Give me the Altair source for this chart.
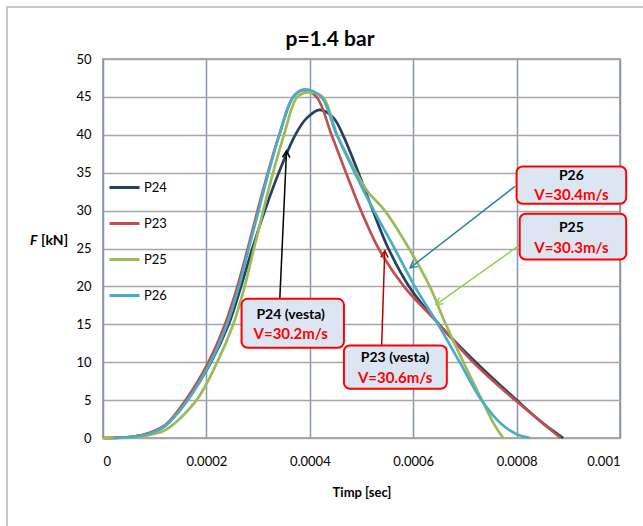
import math
import altair as alt
import pandas as pd

# ---------------- data ----------------
series_names = ["P24", "P23", "P25", "P26"]
series_colors = ["#243F60", "#C0504D", "#9BBB59", "#4BACC6"]

p24_t = [0, 0.00003, 0.00006, 0.00009, 0.00012, 0.000163, 0.000209, 0.000243, 0.000267, 0.000289,
         0.000313, 0.00034, 0.000372, 0.000394, 0.000419, 0.000445, 0.000464, 0.000494, 0.000522,
         0.000552, 0.000592, 0.00065, 0.000721, 0.0008, 0.00085, 0.00089]
p24_f = [0, 0.03, 0.2, 0.6, 1.6, 5, 10, 15, 20, 25,
         30, 35, 40, 42.2, 43.3, 42.3, 40, 35, 30,
         25, 20, 15, 10, 5, 2, 0]

p23_t = [0, 0.00003, 0.00006, 0.00009, 0.000122, 0.00016, 0.000204, 0.000236, 0.00026, 0.00028,
         0.000299, 0.000319, 0.000341, 0.000368, 0.000387, 0.000413, 0.000442, 0.00047, 0.000499,
         0.000533, 0.000582, 0.00065, 0.000716, 0.000797, 0.00085, 0.000885]
p23_f = [0, 0.05, 0.2, 0.7, 1.8, 5, 10, 15, 20, 25,
         30, 35, 40, 45, 45.9, 45, 40, 35, 30,
         25, 20, 15, 10, 5, 2, 0]

p25_t = [0, 0.00003, 0.00006, 0.00009, 0.000122, 0.000181, 0.000221, 0.000252, 0.000274, 0.000292,
         0.00031, 0.000329, 0.00035, 0.000376, 0.000397, 0.000425, 0.000453, 0.00049, 0.000512,
         0.000545, 0.000592, 0.000632, 0.000663, 0.000697, 0.000733, 0.000755, 0.000774]
p25_f = [0, 0, 0.1, 0.4, 1.1, 5, 10, 15, 20, 25,
         30, 35, 40, 45, 45.6, 45, 40, 35, 32.5,
         30, 25, 20, 15, 10, 5, 2, 0]

p26_t = [0.00002, 0.00006, 0.00009, 0.00012, 0.000164, 0.000208, 0.00024, 0.000263, 0.000282,
         0.000301, 0.00032, 0.000341, 0.000368, 0.00039, 0.000422, 0.000452, 0.000487, 0.000505,
         0.000524, 0.000564, 0.000603, 0.000648, 0.00069, 0.000732, 0.000768, 0.0008, 0.000826]
p26_f = [0, 0.2, 0.6, 1.6, 5, 10, 15, 20, 25,
         30, 35, 40, 45, 46, 45, 40, 35, 32.5,
         30, 25, 20, 15, 10, 5, 2, 0.5, 0]

# annotation boxes (data coordinates)
box_name = ["P24 (vesta)", "P23 (vesta)", "P26", "P25"]
box_speed = ["V=30.2m/s", "V=30.6m/s", "V=30.4m/s", "V=30.3m/s"]
box_t1 = [0.000268, 0.000466, 0.000800, 0.000806]
box_t2 = [0.000466, 0.000665, 0.001012, 0.001012]
box_f1 = [11.9, 6.5, 30.9, 23.55]
box_f2 = [18.36, 12.2, 35.82, 29.58]
box_tc = [0.000363, 0.000565, 0.000906, 0.000906]
box_f_name = [16.2, 10.5, 34.6, 27.7]
box_f_speed = [13.7, 7.85, 32.0, 25.1]

# arrows (from box to curve)
arrow_t1 = [0.000342, 0.000539, 0.000797, 0.000805]
arrow_f1 = [18.36, 12.2, 33.2, 25.4]
arrow_t2 = [0.000355, 0.000545, 0.000594, 0.000644]
arrow_f2 = [37.9, 24.7, 22.45, 17.6]
arrow_color = ["#000000", "#C00000", "#31849B", "#92D050"]

x_ticks = [0, 0.0002, 0.0004, 0.0006, 0.0008, 0.001]
y_ticks = [0, 5, 10, 15, 20, 25, 30, 35, 40, 45, 50]

# ---------------- tables ----------------
rows = []
for name, ts, fs in [("P24", p24_t, p24_f), ("P23", p23_t, p23_f),
                     ("P25", p25_t, p25_f), ("P26", p26_t, p26_f)]:
    for t, f in zip(ts, fs):
        rows.append({"series": name, "t": t, "F": f})
lines_df = pd.DataFrame(rows)

W, H = 517, 379
XMAX, YMAX = 0.001, 50

boxes_df = pd.DataFrame({"name": box_name, "speed": box_speed, "t1": box_t1, "t2": box_t2,
                         "f1": box_f1, "f2": box_f2, "tc": box_tc,
                         "fn": box_f_name, "fs": box_f_speed})

angles = []
for a, b, c, d in zip(arrow_t1, arrow_f1, arrow_t2, arrow_f2):
    dx = (c - a) * W / XMAX
    dy = -(d - b) * H / YMAX
    angles.append(math.degrees(math.atan2(dx, -dy)) % 360)
arrows_df = pd.DataFrame({"t1": arrow_t1, "f1": arrow_f1, "t2": arrow_t2, "f2": arrow_f2,
                          "color": arrow_color, "angle": angles})

FONT = "Lato"

xscale = alt.Scale(domain=[0, XMAX], nice=False, zero=False)
yscale = alt.Scale(domain=[0, YMAX], nice=False)

x_axis = alt.Axis(values=x_ticks, format="~g", title="Timp [sec]",
                  grid=True, gridColor="#8797AE", gridWidth=1.5,
                  domain=False, ticks=False, labelPadding=17,
                  labelFontSize=13, labelFont=FONT, labelColor="#000",
                  titleFont=FONT, titleFontSize=13, titleFontWeight="bold",
                  titlePadding=18, titleColor="#000")
y_axis = alt.Axis(values=y_ticks, title=None, grid=True, gridColor="#A6A6A6",
                  gridWidth=1.5, domain=False, ticks=False, labelPadding=12,
                  labelFontSize=13, labelFont=FONT, labelColor="#000")


def X(field):
    return alt.X(field, type="quantitative", scale=xscale, axis=x_axis)


def Y(field):
    return alt.Y(field, type="quantitative", scale=yscale, axis=y_axis)


lines = alt.Chart(lines_df).mark_line(strokeWidth=2.7, interpolate="catmull-rom").encode(
    x=X("t"), y=Y("F"),
    color=alt.Color("series:N",
                    scale=alt.Scale(domain=series_names, range=series_colors),
                    sort=series_names,
                    legend=alt.Legend(title=None, orient="none", legendX=5, legendY=112,
                                      symbolType="stroke", symbolSize=900,
                                      symbolStrokeWidth=3, rowPadding=12, labelOffset=3,
                                      labelFont=FONT, labelFontSize=13, labelColor="#000",
                                      padding=0)),
    order=alt.Order("t:Q"),
    detail="series:N",
)

arrow_lines = alt.Chart(arrows_df).mark_rule(strokeWidth=1.5).encode(
    x=X("t1"), y=Y("f1"), x2="t2:Q", y2="f2:Q",
    color=alt.Color("color:N", scale=None),
)
arrow_heads = alt.Chart(arrows_df).mark_point(
    shape="M -0.55 1 L 0 0 L 0.55 1", filled=False, size=180, strokeWidth=1.5, opacity=1
).encode(
    x=X("t2"), y=Y("f2"),
    color=alt.Color("color:N", scale=None),
    angle=alt.Angle("angle:Q", scale=None),
)

box_rects = alt.Chart(boxes_df).mark_rect(
    fill="#DCE6F2", stroke="#FF0000", strokeWidth=2, cornerRadius=6
).encode(x=X("t1"), x2="t2:Q", y=Y("f1"), y2="f2:Q")

box_names = alt.Chart(boxes_df).mark_text(
    font=FONT, fontSize=14, fontWeight="bold", color="#000"
).encode(x=X("tc"), y=Y("fn"), text="name:N")

box_speeds = alt.Chart(boxes_df).mark_text(
    font=FONT, fontSize=15, fontWeight="bold", color="#FF0000"
).encode(x=X("tc"), y=Y("fs"), text="speed:N")

# chart title
title_mark = alt.Chart(pd.DataFrame({"s": ["p=1.4 bar"]})).mark_text(
    font=FONT, fontSize=21, fontWeight="bold", color="#000", align="center"
).encode(x=alt.value(227), y=alt.value(-19), text="s:N")

# y axis title: "F" italic bold + "[kN]" bold
ytitle_f = alt.Chart(pd.DataFrame({"s": ["F"]})).mark_text(
    font=FONT, fontSize=14, fontWeight="bold", fontStyle="italic", align="left", color="#000"
).encode(x=alt.value(-73), y=alt.value(182), text="s:N")
ytitle_kn = alt.Chart(pd.DataFrame({"s": ["[kN]"]})).mark_text(
    font=FONT, fontSize=14, fontWeight="bold", align="left", color="#000"
).encode(x=alt.value(-62), y=alt.value(182), text="s:N")

# outer chart frame (left and top edges)
frame_left = alt.Chart(pd.DataFrame({"a": [0]})).mark_rule(color="#C8C8C8", strokeWidth=2).encode(
    x=alt.value(-96), y=alt.value(-53), y2=alt.value(480))
frame_top = alt.Chart(pd.DataFrame({"a": [0]})).mark_rule(color="#C8C8C8", strokeWidth=2).encode(
    x=alt.value(-97), x2=alt.value(560), y=alt.value(-52))

chart = alt.layer(
    frame_left, frame_top, lines, arrow_lines, arrow_heads, box_rects, box_names, box_speeds,
    title_mark, ytitle_f, ytitle_kn
).properties(
    width=W, height=H,
    autosize=alt.AutoSizeParams(type="none"),
    padding={"left": 103, "top": 59, "right": 23, "bottom": 88},
    background="#FFFFFF",
).configure_view(stroke="#8C8C8C", strokeWidth=1.5)

chart.save("out.html", embed_options={"renderer": "svg", "actions": False})
